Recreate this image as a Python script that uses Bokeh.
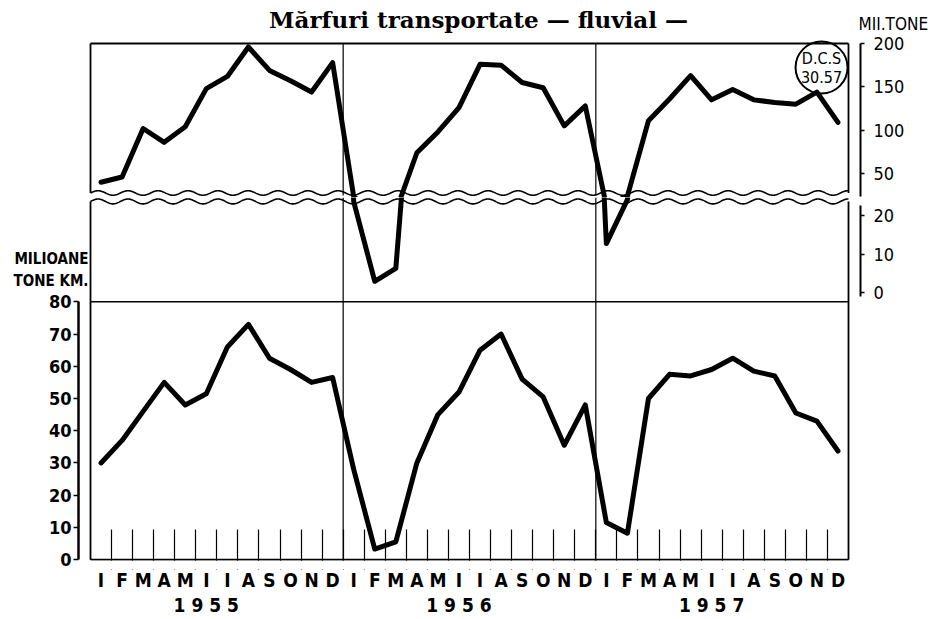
import numpy as np
from bokeh.plotting import figure
from bokeh.layouts import column
from bokeh.models import LinearAxis, FixedTicker, Span, Label, Range1d, BoxAnnotation
from bokeh.embed import file_html
from bokeh.resources import INLINE

# ---------------- data ----------------
TITLE = "Mărfuri transportate — fluvial —"
UNIT_TOP = "MII.TONE"
UNIT_BOTTOM = ["MILIOANE", "TONE KM."]
YEARS = ["1955", "1956", "1957"]
MONTHS = ["I", "F", "M", "A", "M", "I", "I", "A", "S", "O", "N", "D"]

# thousand tonnes transported (upper panel, broken axis)
TONNES_1955 = [40, 46, 102, 86, 104, 148, 162, 196, 169, 157, 144, 178]
TONNES_1956 = [23.5, 3, 6.3, 74, 98, 126, 176, 175, 155, 149, 105, 128]
TONNES_1957 = [12.7, 24, 111, 136, 163, 135, 147, 135, 132, 130, 144, 109]

# million tonne-km (lower panel)
TKM_1955 = [30, 37, 46, 55, 48, 51.5, 66, 73, 62.5, 59, 55, 56.5]
TKM_1956 = [28, 3.3, 5.5, 30, 45, 52, 65, 70, 56, 50.5, 35.5, 48]
TKM_1957 = [11.5, 8.2, 50, 57.5, 57, 59, 62.5, 58.5, 57, 45.5, 43, 33.7]

TOP_TICKS = [50, 100, 150, 200]
BREAK_TICKS = [0, 10, 20]
TKM_TICKS = [0, 10, 20, 30, 40, 50, 60, 70, 80]

NOTE = ["D.C.S", "30.57"]

# ---------------- derived ----------------
tonnes = TONNES_1955 + TONNES_1956 + TONNES_1957
tkm = TKM_1955 + TKM_1956 + TKM_1957
n = len(tonnes)
x = list(range(n))
month_labels = MONTHS * len(YEARS)

FONT = "DejaVu Sans Condensed"
SERIF = "DejaVu Serif"

W = 936
PXU = 758 / 36.0                      # pixels per month
x0 = -0.5 - 90 / PXU                  # frame spans the whole width
x_range = Range1d(x0, x0 + W / PXU)

box_left, box_right = -0.5, n - 0.5
left_axis_x = box_left - 12 / PXU
right_axis_x = box_right + 12 / PXU
dividers = [11.5, 23.5]

wx = np.linspace(box_left, box_right, 1400)
period = 30 / PXU
wave = np.sin(2 * np.pi * (wx - box_left) / period)


def make_fig(height, yr, bottom=0):
    p = figure(width=W, height=height, x_range=x_range, y_range=yr,
               x_axis_type=None, y_axis_type=None,
               toolbar_location=None, output_backend="svg",
               min_border_left=0, min_border_right=0,
               min_border_top=0, min_border_bottom=bottom)
    p.outline_line_color = None
    p.background_fill_color = "white"
    p.border_fill_color = "white"
    return p


def value_axis(ticks, size, bold=False, **kw):
    ax = LinearAxis(ticker=FixedTicker(ticks=ticks, minor_ticks=[]), **kw)
    ax.major_label_text_font = FONT
    ax.major_label_text_font_size = size
    ax.major_label_text_color = "black"
    if bold:
        ax.major_label_text_font_style = "bold"
    ax.axis_line_color = "black"
    ax.axis_line_width = 2
    ax.major_tick_line_color = "black"
    ax.major_tick_line_width = 1.5
    ax.major_tick_in = 0
    ax.minor_tick_line_color = None
    return ax


# ---------------- panel A: title + upper part of tonnes ----------------
A_H = 197
A = make_fig(A_H, Range1d(22.4, 200 + 43 / 0.867))
A_w = 27.6
A.line([box_left, box_right], [200, 200], line_color="black", line_width=1.8)
A.line([box_left, box_left], [200, A_w], line_color="black", line_width=1.8)
A.line([box_right, box_right], [200, A_w], line_color="black", line_width=1.8)
for d in dividers:
    A.line([d, d], [200, A_w - 3], line_color="black", line_width=1.2)
A.line(wx, A_w + 2.6 * wave, line_color="black", line_width=1.6)
A.line(x, tonnes, line_color="black", line_width=5, line_join="round", line_cap="round")

A.scatter([34.22], [172.3], marker="circle", size=52, fill_color=None,
          line_color="black", line_width=2)
A.add_layout(Label(x=34.22, y=172.3, y_offset=9, text=NOTE[0], text_align="center",
                   text_baseline="middle", text_font=FONT, text_font_size="16px",
                   text_color="black"))
A.add_layout(Label(x=34.22, y=172.3, y_offset=-9, text=NOTE[1], text_align="center",
                   text_baseline="middle", text_font=FONT, text_font_size="16px",
                   text_color="black"))

axA = value_axis(TOP_TICKS, "18px", bounds=(24, 200), fixed_location=right_axis_x)
axA.major_tick_out = 4
axA.major_label_standoff = 9
A.add_layout(axA, "right")

A.add_layout(Label(x=478, y=A_H - 19, x_units="screen", y_units="screen", text=TITLE,
                   text_align="center", text_baseline="alphabetic", text_font=SERIF,
                   text_font_style="bold", text_font_size="23px", text_color="black"))
A.add_layout(Label(x=858, y=A_H - 23, x_units="screen", y_units="screen", text=UNIT_TOP,
                   text_align="left", text_baseline="alphabetic", text_font=FONT,
                   text_font_size="17px", text_color="black"))

# ---------------- panel BC: lower part of tonnes + tonne-km ----------------
F_TOP, F_BOT = 197, 575            # frame top / bottom in page pixels
TK = 262 / 80.0                    # px per million tonne-km (80 at 303, 0 at 565)
BK = 3.95                          # px per thousand tonnes in the lower break
BC = make_fig(421, Range1d(-(F_BOT - 565) / TK, 80 + (303 - F_TOP) / TK), bottom=43)
BC.extra_y_ranges = {"brk": Range1d(-(F_BOT - 294) / BK, (294 - F_TOP) / BK)}

B_w = 23.54
BC.line(wx, B_w + 0.63 * wave, line_color="black", line_width=1.6, y_range_name="brk")
wave_top_tkm = 80 + (303 - 201) / TK
BC.line([box_left, box_left], [wave_top_tkm, 0], line_color="black", line_width=1.8)
BC.line([box_right, box_right], [wave_top_tkm, 0], line_color="black", line_width=1.8)
BC.line([box_left, box_right], [80, 80], line_color="black", line_width=1.6)
BC.line([box_left, box_right], [0, 0], line_color="black", line_width=1.6)
for d in dividers:
    BC.add_layout(Span(location=d, dimension="height", line_color="black", line_width=1.2))
BC.line(x, tonnes, line_color="black", line_width=5, line_join="round",
        line_cap="round", y_range_name="brk")
BC.line(x, tkm, line_color="black", line_width=5, line_join="round", line_cap="round")

axB = value_axis(BREAK_TICKS, "18px", y_range_name="brk", bounds=(-1, 22.5),
                 fixed_location=right_axis_x)
axB.major_tick_out = 4
axB.major_label_standoff = 9
BC.add_layout(axB, "right")

axC = value_axis(TKM_TICKS, "18px", bold=True, bounds=(0, 80), fixed_location=left_axis_x)
axC.axis_line_width = 2.5
axC.major_tick_out = 5
axC.major_label_standoff = 2
BC.add_layout(axC, "left")

BC.add_layout(Label(x=88, y=F_BOT - 264, x_units="screen", y_units="screen",
                    text=UNIT_BOTTOM[0], text_align="right", text_baseline="middle",
                    text_font=FONT, text_font_style="bold", text_font_size="15px",
                    text_color="black"))
BC.add_layout(Label(x=88, y=F_BOT - 286, x_units="screen", y_units="screen",
                    text=UNIT_BOTTOM[1], text_align="right", text_baseline="middle",
                    text_font=FONT, text_font_style="bold", text_font_size="15px",
                    text_color="black"))

boundaries = [i + 0.5 for i in range(n - 1)]
axM = LinearAxis(ticker=FixedTicker(ticks=x, minor_ticks=boundaries))
axM.major_label_text_font = FONT
axM.major_label_text_font_size = "19px"
axM.major_label_text_font_style = "bold"
axM.major_label_text_color = "black"
axM.axis_line_color = None
axM.major_tick_line_color = None
axM.major_tick_out = 0
axM.major_tick_in = 0
axM.minor_tick_line_color = "black"
axM.minor_tick_line_width = 1.2
axM.minor_tick_in = F_BOT - 535
axM.minor_tick_out = 0
axM.major_label_standoff = -1
axM.major_label_overrides = {i: month_labels[i] for i in x}
BC.add_layout(axM, "below")

year_ticks = [5 + 12 * k for k in range(len(YEARS))]
axY = LinearAxis(ticker=FixedTicker(ticks=year_ticks, minor_ticks=[]))
axY.major_label_text_font = FONT
axY.major_label_text_font_size = "19px"
axY.major_label_text_font_style = "bold"
axY.major_label_text_color = "black"
axY.axis_line_color = None
axY.major_tick_line_color = None
axY.major_tick_out = 0
axY.major_tick_in = 0
axY.minor_tick_line_color = None
axY.major_label_standoff = 0
axY.major_label_overrides = {t: " ".join(YEARS[k]) for k, t in enumerate(year_ticks)}
BC.add_layout(axY, "below")

# white strip hiding the part of the month ticks / dividers below the base line
BC.add_layout(BoxAnnotation(left=box_left - 0.15, right=box_right + 0.15,
                            top=-1.2 / TK, fill_color="white", fill_alpha=1,
                            line_color=None))

layout = column(A, BC, spacing=0)
open("out.html", "w").write(file_html(layout, INLINE))
